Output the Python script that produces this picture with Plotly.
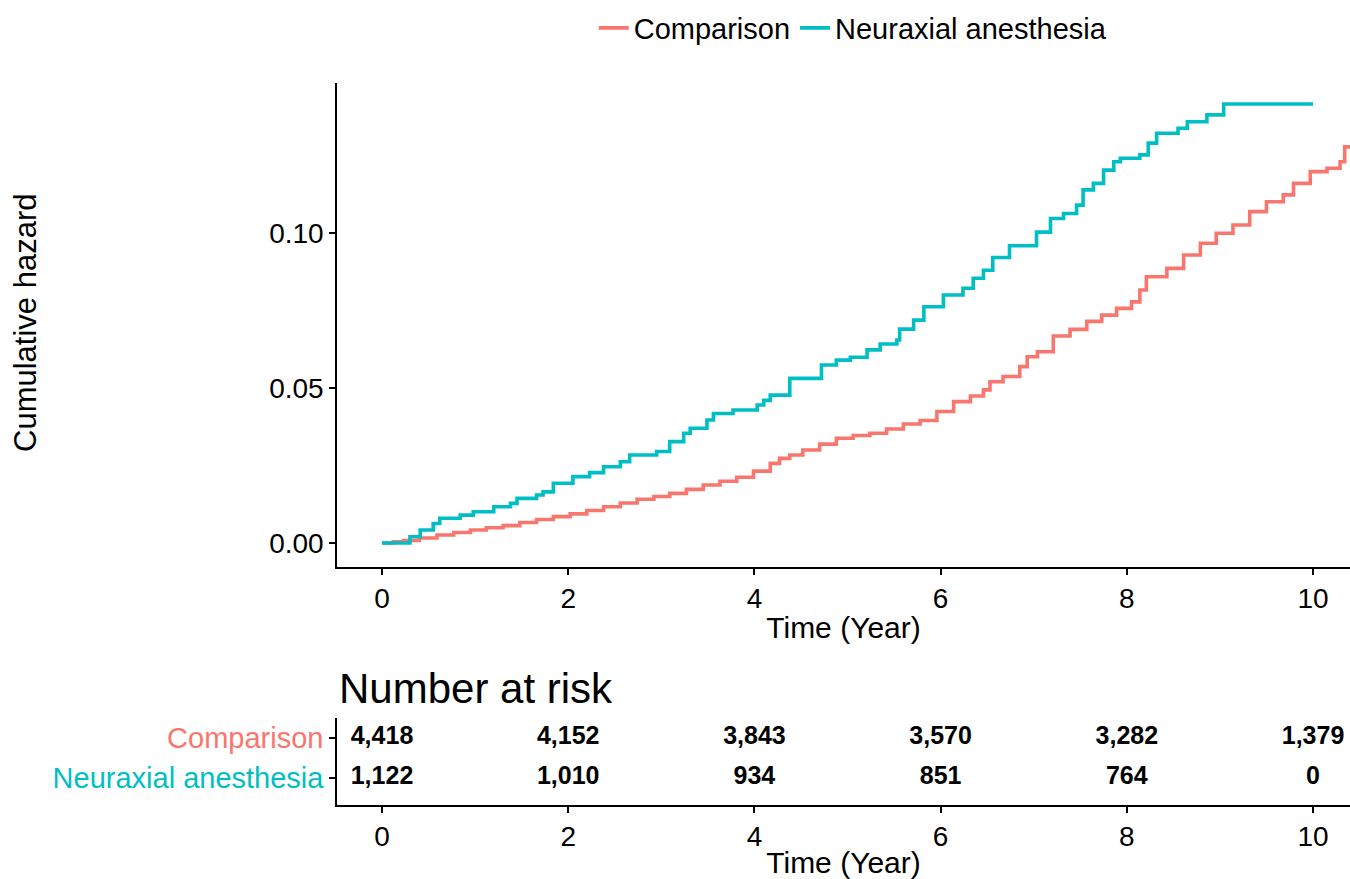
import plotly.graph_objects as go

# ---------------- data ----------------
comp_t = [0, 0.12, 0.23, 0.40, 0.59, 0.77, 0.95, 1.12, 1.30, 1.48, 1.66, 1.84, 2.02, 2.20, 2.38,
          2.56, 2.74, 2.92, 3.09, 3.27, 3.45, 3.63, 3.81, 3.99, 4.17, 4.27, 4.38, 4.52, 4.70, 4.88,
          5.06, 5.24, 5.42, 5.60, 5.78, 5.96, 6.14, 6.32, 6.46, 6.53, 6.67, 6.85, 6.93, 7.04, 7.21,
          7.39, 7.57, 7.73, 7.89, 8.05, 8.14, 8.21, 8.43, 8.61, 8.79, 8.96, 9.14, 9.32, 9.50, 9.68,
          9.79, 9.97, 10.15, 10.29, 10.34, 10.45]
comp_h = [0, 0.0004, 0.0008, 0.0016, 0.0026, 0.0034, 0.0042, 0.0049, 0.0056, 0.0066, 0.0076, 0.0085,
          0.0094, 0.0105, 0.0117, 0.0129, 0.0141, 0.0150, 0.0160, 0.0173, 0.0187, 0.0199, 0.0212,
          0.0232, 0.0257, 0.0273, 0.0284, 0.0300, 0.0319, 0.0338, 0.0347, 0.0354, 0.0368, 0.0384,
          0.0395, 0.0424, 0.0456, 0.0474, 0.0494, 0.0520, 0.0537, 0.0569, 0.0601, 0.0617, 0.0668,
          0.0689, 0.0715, 0.0735, 0.0757, 0.0778, 0.0816, 0.0859, 0.0886, 0.0929, 0.0967, 0.0999,
          0.1026, 0.1069, 0.1101, 0.1123, 0.1160, 0.1198, 0.1209, 0.1230, 0.1278, 0.1290]

neur_t = [0, 0.25, 0.30, 0.41, 0.55, 0.62, 0.84, 0.98, 1.20, 1.38, 1.45, 1.66, 1.73, 1.84, 2.05,
          2.23, 2.38, 2.56, 2.66, 2.95, 3.09, 3.24, 3.31, 3.49, 3.56, 3.77, 4.03, 4.10, 4.17, 4.38,
          4.72, 4.88, 5.03, 5.21, 5.35, 5.53, 5.56, 5.71, 5.82, 6.03, 6.24, 6.35, 6.46, 6.56, 6.74,
          7.03, 7.18, 7.32, 7.46, 7.53, 7.64, 7.75, 7.86, 7.93, 8.14, 8.23, 8.32, 8.55, 8.65, 8.86,
          9.04, 10.0]
neur_h = [0, 0, 0.0020, 0.0042, 0.0063, 0.0080, 0.0090, 0.0101, 0.0117, 0.0128, 0.0144, 0.0155,
          0.0165, 0.0193, 0.0214, 0.0227, 0.0246, 0.0262, 0.0284, 0.0295, 0.0327, 0.0354, 0.0370,
          0.0397, 0.0418, 0.0429, 0.0445, 0.0460, 0.0477, 0.0531, 0.0574, 0.0590, 0.0599, 0.0623,
          0.0642, 0.0655, 0.0690, 0.0719, 0.0762, 0.0800, 0.0822, 0.0854, 0.0880, 0.0921, 0.0959,
          0.1003, 0.1047, 0.1063, 0.1090, 0.1139, 0.1160, 0.1203, 0.1230, 0.1241, 0.1252, 0.1290,
          0.1322, 0.1338, 0.1359, 0.1381, 0.1416, 0.1416]

groups = ["Comparison", "Neuraxial anesthesia"]
risk_times = [0, 2, 4, 6, 8, 10]
risk_comp = [4418, 4152, 3843, 3570, 3282, 1379]
risk_neur = [1122, 1010, 934, 851, 764, 0]

x_ticks = [0, 2, 4, 6, 8, 10]
y_ticks = [0.00, 0.05, 0.10]
y_ticklabels = ["0.00", "0.05", "0.10"]

# ---------------- styles ----------------
RED = "#F8766D"
TEAL = "#00BFC4"
FONT = "Liberation Sans, Arial, sans-serif"
W, H = 1350, 879


def py(px):
    return 1 - px / H


fig = go.Figure()

fig.add_trace(go.Scatter(x=comp_t, y=comp_h, mode="lines", line=dict(color=RED, width=3.6, shape="hv"),
                         name=groups[0], xaxis="x", yaxis="y"))
fig.add_trace(go.Scatter(x=neur_t, y=neur_h, mode="lines", line=dict(color=TEAL, width=3.6, shape="hv"),
                         name=groups[1], xaxis="x", yaxis="y"))

# risk table
tf = dict(size=25, color="black", family=FONT, weight="bold")
fig.add_trace(go.Scatter(x=risk_times, y=[2] * len(risk_times), mode="text",
                         text=[f"{v:,}" for v in risk_comp], textfont=tf,
                         showlegend=False, xaxis="x2", yaxis="y2", hoverinfo="skip"))
fig.add_trace(go.Scatter(x=risk_times, y=[1] * len(risk_times), mode="text",
                         text=[f"{v:,}" for v in risk_neur], textfont=tf,
                         showlegend=False, xaxis="x2", yaxis="y2", hoverinfo="skip"))

xr = [-0.4834, 10.397]
axis_common = dict(showline=True, linecolor="black", linewidth=1.5, ticks="outside", ticklen=6,
                   tickwidth=1.5, tickcolor="black", showgrid=False, zeroline=False,
                   tickfont=dict(size=28, color="black", family=FONT))

fig.update_layout(
    width=W, height=H, autosize=False,
    margin=dict(l=0, r=0, t=0, b=0),
    paper_bgcolor="white", plot_bgcolor="white",
    font=dict(family=FONT, color="black"),
    showlegend=True,
    legend=dict(orientation="h", x=0.632, xanchor="center", y=py(28), yanchor="middle",
                font=dict(size=29, color="black", family=FONT), bgcolor="rgba(0,0,0,0)",
                itemwidth=30),
    xaxis=dict(domain=[337 / W, 1], range=xr, tickvals=x_ticks, anchor="y",
               title=dict(text="Time (Year)", font=dict(size=30, color="black", family=FONT), standoff=4),
               **axis_common),
    yaxis=dict(domain=[py(567), py(83)], range=[-0.00774, 0.14839], tickvals=y_ticks,
               ticktext=y_ticklabels, anchor="x", **axis_common),
    xaxis2=dict(domain=[337 / W, 1], range=xr, tickvals=x_ticks, anchor="y2",
                title=dict(text="Time (Year)", font=dict(size=30, color="black", family=FONT), standoff=2),
                **axis_common),
    yaxis2=dict(domain=[py(805), py(718)], range=[0.325, 2.5], tickvals=[2, 1],
                ticktext=[f'<span style="color:{RED}">{groups[0]}</span>',
                          f'<span style="color:{TEAL}">{groups[1]}</span>'],
                anchor="x2", **{**axis_common, "tickfont": dict(size=29, family=FONT)}),
)

fig.add_annotation(text="Cumulative hazard", textangle=-90, x=25 / W, y=py(323), xref="paper", yref="paper",
                   showarrow=False, font=dict(size=31, color="black", family=FONT),
                   xanchor="center", yanchor="middle")
fig.add_annotation(text="Number at risk", x=337 / W, y=py(688), xref="paper", yref="paper",
                   showarrow=False, font=dict(size=42, color="black", family=FONT),
                   xanchor="left", yanchor="middle")

fig.write_html("out.html")
